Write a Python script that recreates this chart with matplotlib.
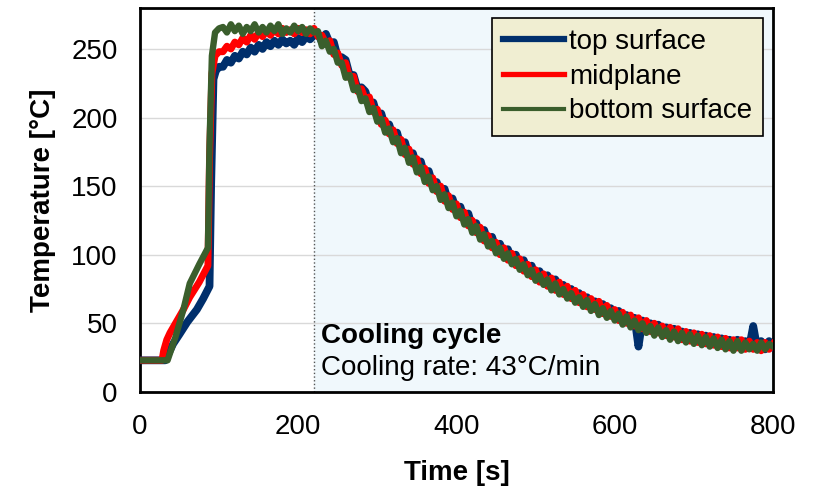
import numpy as np
import matplotlib.pyplot as plt

plt.rcParams['font.family'] = ['Liberation Sans', 'DejaVu Sans']

# heating ramp (seconds / degC)
t_top_heat = [0, 32, 42, 50, 60, 72, 80, 88, 90, 93, 96, 100]
T_top_heat = [23, 23, 35, 42, 51, 60, 68, 77, 150, 228, 234, 237]
t_mid_heat = [0, 28, 30, 34, 38, 45, 55, 63, 75, 86, 88, 91, 95, 100]
T_mid_heat = [23, 23, 30, 38, 43, 50, 60, 69, 80, 92, 170, 232, 245, 248]
t_bot_heat = [0, 35, 45, 55, 63, 75, 86, 88, 91, 95, 100]
T_bot_heat = [23, 23, 40, 60, 79, 93, 105, 180, 245, 262, 265]

# hold + cooling, every 5 s from 105 s to 800 s (one row = 50 s)
t_cool = list(range(105, 801, 5))
T_top_cool = [237, 242, 240, 245, 243, 248, 246, 251, 248, 253,
              250, 255, 252, 256, 253, 257, 254, 256, 253, 258,
              255, 259, 257, 260, 261, 255, 261, 254, 255, 244,
              244, 242, 231, 231, 221, 222, 219, 209, 211, 201,
              203, 193, 195, 186, 189, 178, 182, 171, 174, 164,
              168, 157, 161, 151, 153, 144, 148, 138, 141, 132,
              135, 126, 130, 120, 123, 114, 118, 109, 113, 104,
              108, 100, 104, 96, 100, 92, 96, 88, 92, 84,
              88, 81, 85, 77, 82, 74, 78, 71, 75, 68,
              72, 65, 69, 62, 66, 59, 64, 56, 61, 54,
              59, 51, 56, 49, 54, 33, 52, 45, 50, 43,
              49, 42, 47, 40, 46, 39, 44, 38, 43, 37,
              42, 36, 41, 35, 40, 34, 39, 33, 38, 32,
              38, 32, 37, 33, 48, 32, 37, 31, 37, 33]
T_mid_cool = [248, 252, 250, 255, 253, 258, 255, 260, 257, 262,
              259, 263, 260, 264, 261, 265, 262, 264, 261, 265,
              262, 264, 261, 265, 259, 260, 254, 256, 246, 247,
              238, 240, 229, 230, 219, 221, 213, 215, 204, 206,
              195, 198, 188, 191, 181, 184, 173, 177, 166, 170,
              159, 163, 152, 156, 146, 150, 139, 143, 133, 137,
              127, 131, 121, 125, 116, 120, 110, 114, 105, 109,
              100, 105, 96, 101, 92, 97, 88, 93, 84, 89,
              80, 86, 77, 83, 74, 80, 71, 77, 68, 74,
              65, 71, 62, 68, 60, 66, 57, 63, 55, 60,
              52, 58, 50, 56, 48, 54, 46, 52, 44, 50,
              43, 48, 41, 47, 40, 46, 38, 44, 37, 43,
              36, 42, 35, 41, 34, 40, 33, 39, 32, 38,
              32, 38, 31, 37, 31, 36, 30, 36, 31, 35]
T_bot_cool = [266, 262, 268, 263, 267, 261, 266, 263, 268, 262,
              266, 262, 267, 263, 268, 261, 265, 262, 267, 263,
              266, 261, 265, 262, 263, 252, 256, 248, 250, 240,
              240, 229, 231, 220, 222, 212, 214, 204, 207, 197,
              199, 189, 192, 182, 185, 174, 178, 167, 171, 160,
              164, 153, 157, 147, 150, 140, 144, 134, 138, 128,
              132, 122, 126, 116, 121, 111, 115, 106, 110, 101,
              105, 97, 101, 93, 97, 89, 93, 85, 89, 81,
              85, 78, 82, 74, 79, 71, 75, 68, 72, 65,
              69, 62, 67, 59, 64, 56, 61, 54, 59, 52,
              57, 49, 55, 47, 52, 45, 50, 43, 48, 41,
              47, 40, 45, 38, 44, 37, 43, 36, 42, 35,
              41, 34, 40, 33, 39, 32, 38, 31, 37, 30,
              37, 30, 36, 31, 35, 30, 36, 31, 35, 33]

cooling_start = 220

fig = plt.figure(figsize=(8.18, 4.88), dpi=100)
ax = fig.add_axes([0.171, 0.197, 0.774, 0.787])

ax.axvspan(cooling_start, 800, color='#f0f8fc', zorder=0)
ax.axvline(cooling_start, color='#555555', linestyle=':', linewidth=1, zorder=1)
for y in range(50, 300, 50):
    ax.axhline(y, color='#d9d9d9', linewidth=1, zorder=0.5)

ax.plot(t_top_heat + t_cool, T_top_heat + T_top_cool, color='#002f6c', lw=5.6,
        label='top surface', zorder=3, solid_joinstyle='round')
ax.plot(t_mid_heat + t_cool, T_mid_heat + T_mid_cool, color='#ff0000', lw=5.0,
        label='midplane', zorder=4, solid_joinstyle='round')
ax.plot(t_bot_heat + t_cool, T_bot_heat + T_bot_cool, color='#3a5e2c', lw=4.6,
        label='bottom surface', zorder=5, solid_joinstyle='round')

ax.set_xlim(0, 800)
ax.set_ylim(0, 280)
ax.set_xticks([0, 200, 400, 600, 800])
ax.set_yticks([0, 50, 100, 150, 200, 250])
ax.tick_params(length=0, labelsize=20, pad=16)
for s in ax.spines.values():
    s.set_linewidth(2)
    s.set_color('black')

ax.set_xlabel('Time [s]', fontsize=20, fontweight='bold', labelpad=14)
ax.set_ylabel('Temperature [°C]', fontsize=20, fontweight='bold', labelpad=11)

ax.text(229, 35.5, 'Cooling cycle', fontsize=20, fontweight='bold', zorder=6)
ax.text(229, 12, 'Cooling rate: 43°C/min', fontsize=20, zorder=6)

leg = ax.legend(loc='upper right', fontsize=20, frameon=True, fancybox=False,
                facecolor='#f0eed2', edgecolor='black', framealpha=1,
                handlelength=2.2, handletextpad=0.18, borderpad=0.4,
                labelspacing=0.32, borderaxespad=0.35)
leg.get_frame().set_linewidth(1.2)
leg.set_zorder(10)
for line, w in zip(leg.get_lines(), [4.5, 3.8, 3.0]):
    line.set_linewidth(w)

fig.savefig('out.png', dpi=100)
